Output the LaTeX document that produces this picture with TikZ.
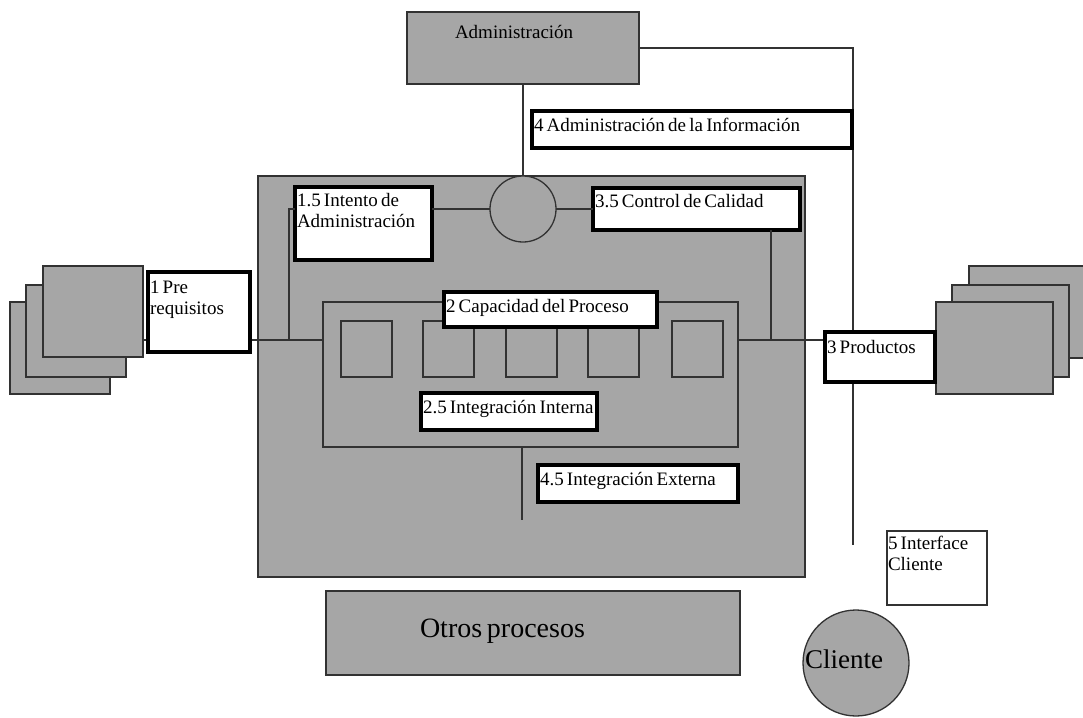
\documentclass[tikz,border=0pt]{standalone}
\usepackage{fontspec}
\setmainfont{Liberation Serif}
\definecolor{boxgray}{RGB}{166,166,166}
\definecolor{linegray}{RGB}{50,50,50}
% text block anchored at the top-left of a box: width, height, indent, first baseline, text
\newcommand\boxtext[5]{\parbox[t][#2pt][t]{#1pt}{\raggedright\leftskip=#3pt\relax\spaceskip=0.17em plus 0.05em\relax\rule{0pt}{#4pt}#5}}
\begin{document}
\begin{tikzpicture}[x=1pt,y=-1pt,
  wire/.style={draw=linegray,line width=1.2pt},
  block/.style={draw=linegray,line width=1.3pt,fill=boxgray,inner sep=0pt,outer sep=0pt,anchor=north west},
  sheet/.style={block,minimum height=92pt},
  slot/.style={block,minimum width=51pt,minimum height=56pt},
  tag/.style={draw=black,line width=3.2pt,fill=white,inner sep=0pt,outer sep=0pt,anchor=north west,font=\fontsize{19}{21.5}\selectfont},
  note/.style={tag,draw=linegray,line width=1.6pt},
  disc/.style={circle,draw=linegray,line width=1.3pt,fill=boxgray,inner sep=0pt,outer sep=0pt}]
\useasboundingbox (0,0) rectangle (1083,717);
\clip (0,0) rectangle (1083,717);

% stacked sheets: inputs on the left, outputs on the right
\node[sheet,minimum width=100pt] (lback) at (10,302) {};
\node[sheet,minimum width=100pt] (lmid) at (26,285) {};
\node[sheet,minimum width=100pt,minimum height=91pt] (lfront) at (43,266) {};
\node[sheet,minimum width=130pt] (rback) at (969,266) {};
\node[sheet,minimum width=117pt] (rmid) at (952,285) {};
\node[sheet,minimum width=117pt] (rfront) at (936,302) {};

% administration block
\node[block,font=\fontsize{19}{21.5}\selectfont] (adm) at (407,12) {\boxtext{232}{72}{48}{26}{Administración}};

% process area
\node[block,minimum width=547pt,minimum height=401pt] (proc) at (258,176) {};
\node[block,minimum width=415pt,minimum height=145pt] (inner) at (323,302) {};
\foreach \x/\n in {341/s1,423/s2,506/s3,588/s4,672/s5}
  \node[slot] (\n) at (\x,321) {};
\node[disc,minimum size=66pt] (hub) at (523,209) {};

% reference points for the connectors
\coordinate (busY) at (0,340);
\coordinate (qcDrop) at (771,0);
\coordinate (extEnd) at (522,520);
\coordinate (railEnd) at (853,545);

% labelled boxes
\node[tag] (intent) at (295,187) {\boxtext{137}{73}{2}{19}{1.5 Intento de\\Administración}};
\node[tag] (control) at (593,188) {\boxtext{207}{42}{2}{19}{3.5 Control de Calidad}};

% connectors
\draw[wire] (adm.east) -| (railEnd);
\draw[wire] (adm.south) -- (hub.north);
\draw[wire] (intent.east |- hub) -- (hub.west);
\draw[wire] (hub.east) -- (control.west |- hub);
\draw[wire] (intent.west |- hub) -| ([xshift=-6pt]intent.west |- busY);
\draw[wire] (control.south -| qcDrop) -- (qcDrop |- busY);
\draw[wire] (lfront.east |- busY) -- (inner.west |- busY);
\draw[wire] (inner.east |- busY) -- (835,340);
\draw[wire] (inner.south -| extEnd) -- (extEnd);

\node[tag] (info) at (532,111) {\boxtext{320}{37}{2}{20}{4 Administración de la Información}};
\node[tag] (pre) at (148,272) {\boxtext{102}{80}{2}{21}{1 Pre\\requisitos}};
\node[tag] (cap) at (444,292) {\boxtext{213}{35}{2}{20}{2 Capacidad del Proceso}};
\node[tag] (intint) at (421,393) {\boxtext{176}{37}{2}{20}{2.5 Integración Interna}};
\node[tag] (ext) at (538,465) {\boxtext{200}{37}{2}{20}{4.5 Integración Externa}};
\node[tag] (prod) at (825,332) {\boxtext{110}{50}{2}{21}{3 Productos}};
\node[note] (iface) at (887,531) {\boxtext{100}{74}{1}{18}{5 Interface\\Cliente}};

% other processes and the client
\node[block,font=\fontsize{28}{32}\selectfont] (others) at (326,591) {\boxtext{414}{84}{94}{46}{Otros procesos}};
\node[disc,minimum size=106pt] (client) at (856,663) {};
\node[anchor=base west,inner sep=0pt,font=\fontsize{27}{30}\selectfont] (clientName) at (805,668) {Cliente};
\end{tikzpicture}
\end{document}
